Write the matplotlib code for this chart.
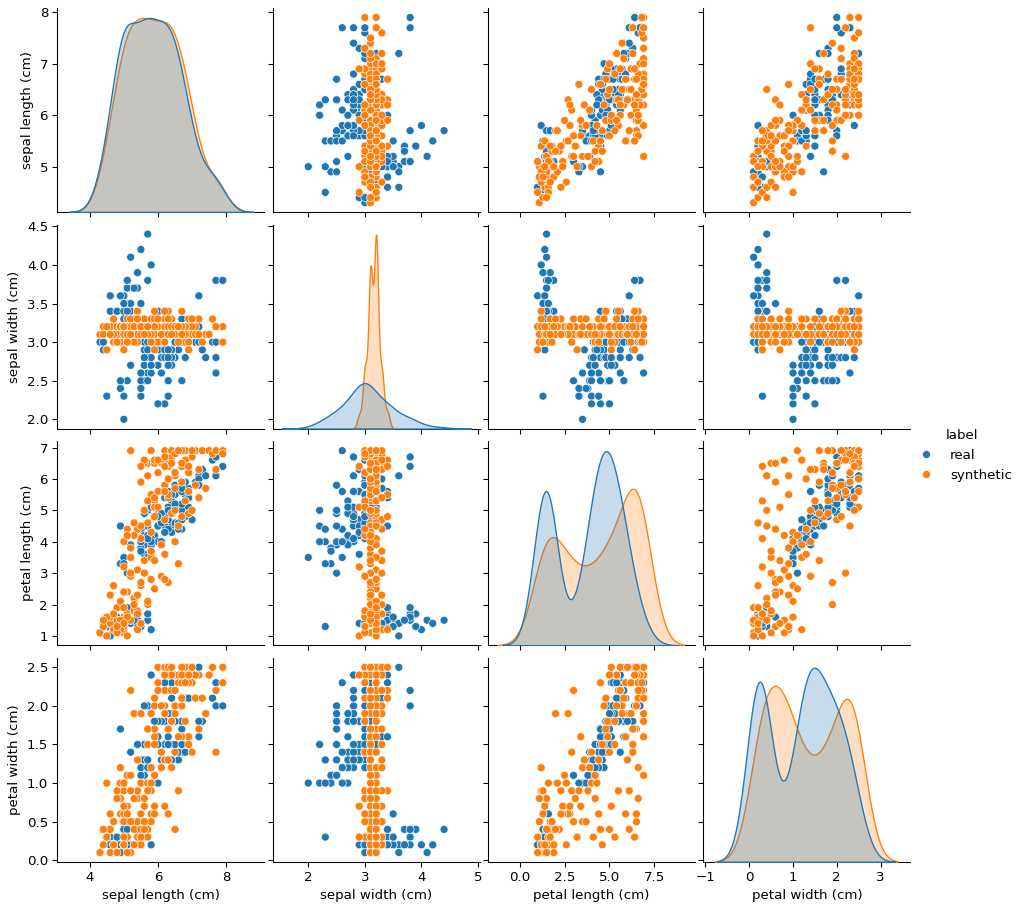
import matplotlib
matplotlib.use("Agg")
import matplotlib.pyplot as plt
import pandas as pd
import seaborn as sns

# ---- real iris measurements -------------------------------------------------
real_sepal_length = [
    5.1, 4.9, 4.7, 4.6, 5.0, 5.4, 4.6, 5.0, 4.4, 4.9,
    5.4, 4.8, 4.8, 4.3, 5.8, 5.7, 5.4, 5.1, 5.7, 5.1,
    5.4, 5.1, 4.6, 5.1, 4.8, 5.0, 5.0, 5.2, 5.2, 4.7,
    4.8, 5.4, 5.2, 5.5, 4.9, 5.0, 5.5, 4.9, 4.4, 5.1,
    5.0, 4.5, 4.4, 5.0, 5.1, 4.8, 5.1, 4.6, 5.3, 5.0,
    7.0, 6.4, 6.9, 5.5, 6.5, 5.7, 6.3, 4.9, 6.6, 5.2,
    5.0, 5.9, 6.0, 6.1, 5.6, 6.7, 5.6, 5.8, 6.2, 5.6,
    5.9, 6.1, 6.3, 6.1, 6.4, 6.6, 6.8, 6.7, 6.0, 5.7,
    5.5, 5.5, 5.8, 6.0, 5.4, 6.0, 6.7, 6.3, 5.6, 5.5,
    5.5, 6.1, 5.8, 5.0, 5.6, 5.7, 5.7, 6.2, 5.1, 5.7,
    6.3, 5.8, 7.1, 6.3, 6.5, 7.6, 4.9, 7.3, 6.7, 7.2,
    6.5, 6.4, 6.8, 5.7, 5.8, 6.4, 6.5, 7.7, 7.7, 6.0,
    6.9, 5.6, 7.7, 6.3, 6.7, 7.2, 6.2, 6.1, 6.4, 7.2,
    7.4, 7.9, 6.4, 6.3, 6.1, 7.7, 6.3, 6.4, 6.0, 6.9,
    6.7, 6.9, 5.8, 6.8, 6.7, 6.7, 6.3, 6.5, 6.2, 5.9,
]
real_sepal_width = [
    3.5, 3.0, 3.2, 3.1, 3.6, 3.9, 3.4, 3.4, 2.9, 3.1,
    3.7, 3.4, 3.0, 3.0, 4.0, 4.4, 3.9, 3.5, 3.8, 3.8,
    3.4, 3.7, 3.6, 3.3, 3.4, 3.0, 3.4, 3.5, 3.4, 3.2,
    3.1, 3.4, 4.1, 4.2, 3.1, 3.2, 3.5, 3.6, 3.0, 3.4,
    3.5, 2.3, 3.2, 3.5, 3.8, 3.0, 3.8, 3.2, 3.7, 3.3,
    3.2, 3.2, 3.1, 2.3, 2.8, 2.8, 3.3, 2.4, 2.9, 2.7,
    2.0, 3.0, 2.2, 2.9, 2.9, 3.1, 3.0, 2.7, 2.2, 2.5,
    3.2, 2.8, 2.5, 2.8, 2.9, 3.0, 2.8, 3.0, 2.9, 2.6,
    2.4, 2.4, 2.7, 2.7, 3.0, 3.4, 3.1, 2.3, 3.0, 2.5,
    2.6, 3.0, 2.6, 2.3, 2.7, 3.0, 2.9, 2.9, 2.5, 2.8,
    3.3, 2.7, 3.0, 2.9, 3.0, 3.0, 2.5, 2.9, 2.5, 3.6,
    3.2, 2.7, 3.0, 2.5, 2.8, 3.2, 3.0, 3.8, 2.6, 2.2,
    3.2, 2.8, 2.8, 2.7, 3.3, 3.2, 2.8, 3.0, 2.8, 3.0,
    2.8, 3.8, 2.8, 2.8, 2.6, 3.0, 3.4, 3.1, 3.0, 3.1,
    3.1, 3.1, 2.7, 3.2, 3.3, 3.0, 2.5, 3.0, 3.4, 3.0,
]
real_petal_length = [
    1.4, 1.4, 1.3, 1.5, 1.4, 1.7, 1.4, 1.5, 1.4, 1.5,
    1.5, 1.6, 1.4, 1.1, 1.2, 1.5, 1.3, 1.4, 1.7, 1.5,
    1.7, 1.5, 1.0, 1.7, 1.9, 1.6, 1.6, 1.5, 1.4, 1.6,
    1.6, 1.5, 1.5, 1.4, 1.5, 1.2, 1.3, 1.4, 1.3, 1.5,
    1.3, 1.3, 1.3, 1.6, 1.9, 1.4, 1.6, 1.4, 1.5, 1.4,
    4.7, 4.5, 4.9, 4.0, 4.6, 4.5, 4.7, 3.3, 4.6, 3.9,
    3.5, 4.2, 4.0, 4.7, 3.6, 4.4, 4.5, 4.1, 4.5, 3.9,
    4.8, 4.0, 4.9, 4.7, 4.3, 4.4, 4.8, 5.0, 4.5, 3.5,
    3.8, 3.7, 3.9, 5.1, 4.5, 4.5, 4.7, 4.4, 4.1, 4.0,
    4.4, 4.6, 4.0, 3.3, 4.2, 4.2, 4.2, 4.3, 3.0, 4.1,
    6.0, 5.1, 5.9, 5.6, 5.8, 6.6, 4.5, 6.3, 5.8, 6.1,
    5.1, 5.3, 5.5, 5.0, 5.1, 5.3, 5.5, 6.7, 6.9, 5.0,
    5.7, 4.9, 6.7, 4.9, 5.7, 6.0, 4.8, 4.9, 5.6, 5.8,
    6.1, 6.4, 5.6, 5.1, 5.6, 6.1, 5.6, 5.5, 4.8, 5.4,
    5.6, 5.1, 5.1, 5.9, 5.7, 5.2, 5.0, 5.2, 5.4, 5.1,
]
real_petal_width = [
    0.2, 0.2, 0.2, 0.2, 0.2, 0.4, 0.3, 0.2, 0.2, 0.1,
    0.2, 0.2, 0.1, 0.1, 0.2, 0.4, 0.4, 0.3, 0.3, 0.3,
    0.2, 0.4, 0.2, 0.5, 0.2, 0.2, 0.4, 0.2, 0.2, 0.2,
    0.2, 0.4, 0.1, 0.2, 0.2, 0.2, 0.2, 0.1, 0.2, 0.2,
    0.3, 0.3, 0.2, 0.6, 0.4, 0.3, 0.2, 0.2, 0.2, 0.2,
    1.4, 1.5, 1.5, 1.3, 1.5, 1.3, 1.6, 1.0, 1.3, 1.4,
    1.0, 1.5, 1.0, 1.4, 1.3, 1.4, 1.5, 1.0, 1.5, 1.1,
    1.8, 1.3, 1.5, 1.2, 1.3, 1.4, 1.4, 1.7, 1.5, 1.0,
    1.1, 1.0, 1.2, 1.6, 1.5, 1.6, 1.5, 1.3, 1.3, 1.3,
    1.2, 1.4, 1.2, 1.0, 1.3, 1.2, 1.3, 1.3, 1.1, 1.3,
    2.5, 1.9, 2.1, 1.8, 2.2, 2.1, 1.7, 1.8, 1.8, 2.5,
    2.0, 1.9, 2.1, 2.0, 2.4, 2.3, 1.8, 2.2, 2.3, 1.5,
    2.3, 2.0, 2.0, 1.8, 2.1, 1.8, 1.8, 1.8, 2.1, 1.6,
    1.9, 2.0, 2.2, 1.5, 1.4, 2.3, 2.4, 1.8, 1.8, 2.1,
    2.4, 2.3, 1.9, 2.3, 2.5, 2.3, 1.9, 2.0, 2.3, 1.8,
]

# ---- synthetic rows ---------------------------------------------------------
syn_sepal_length = [
    4.3, 4.4, 4.5, 4.6, 4.6, 4.7, 4.8, 4.8, 4.9, 4.9,
    5.0, 5.0, 5.1, 5.1, 5.2, 5.2, 5.3, 5.3, 5.4, 5.4,
    5.5, 5.5, 4.7, 5.6, 5.7, 5.0, 5.8, 5.8, 5.1, 5.9,
    5.6, 4.9, 5.4, 6.2, 6.3, 5.4, 6.6, 4.5, 4.7, 5.0,
    5.1, 5.3, 5.5, 4.9, 5.0, 5.0, 6.1, 4.4, 5.2, 5.2,
    4.8, 5.4, 5.7, 4.6, 5.9, 5.0, 4.8, 6.2, 5.0, 5.2,
    5.4, 5.5, 5.7, 5.3, 5.9, 5.5, 6.1, 6.2, 5.8, 6.4,
    5.1, 6.5, 5.3, 6.7, 5.1, 6.6, 5.8, 6.9, 5.6, 5.9,
    6.0, 5.9, 6.2, 6.3, 6.4, 6.5, 5.8, 6.7, 6.8, 6.9,
    7.0, 7.1, 7.2, 5.7, 5.5, 6.3, 7.4, 6.0, 5.7, 6.7,
    6.2, 5.9, 6.5, 5.2, 5.6, 5.8, 6.0, 5.6, 6.2, 6.3,
    6.4, 6.5, 6.6, 6.7, 6.8, 6.9, 7.0, 7.1, 6.3, 7.3,
    6.7, 7.5, 7.6, 7.7, 6.4, 7.9, 6.3, 5.9, 5.9, 6.4,
    6.1, 6.9, 5.5, 7.0, 7.2, 6.8, 6.2, 6.5, 6.5, 5.7,
    6.2, 6.7, 6.7, 6.0, 6.3, 7.7, 7.9, 6.4, 6.6, 6.9,
]
syn_sepal_width = [
    3.1, 3.2, 2.9, 3.2, 3.1, 3.3, 3.2, 3.1, 3.0, 3.2,
    3.1, 3.2, 3.3, 3.1, 3.2, 3.0, 3.2, 3.1, 3.4, 3.2,
    3.1, 3.2, 3.0, 3.3, 3.1, 3.2, 3.2, 3.1, 3.0, 3.2,
    3.1, 3.2, 3.3, 3.1, 3.2, 3.0, 3.1, 3.2, 3.1, 2.9,
    3.2, 3.3, 3.1, 3.2, 3.1, 3.2, 3.0, 3.1, 3.3, 3.2,
    3.0, 3.1, 3.2, 3.1, 3.1, 3.2, 3.0, 3.2, 3.2, 3.1,
    3.3, 3.2, 3.1, 3.0, 3.2, 3.1, 3.2, 3.3, 3.1, 3.2,
    3.0, 3.1, 3.2, 3.4, 3.1, 3.2, 3.3, 3.1, 3.2, 3.1,
    3.2, 2.9, 3.2, 3.1, 3.3, 3.2, 3.1, 3.2, 3.0, 3.2,
    3.1, 3.2, 3.3, 3.1, 3.2, 3.4, 3.1, 3.0, 3.2, 3.1,
    3.2, 3.3, 3.1, 3.1, 3.2, 3.0, 3.2, 3.1, 3.2, 3.3,
    3.1, 3.2, 3.0, 3.2, 3.1, 3.3, 3.2, 3.1, 3.2, 3.0,
    3.2, 3.1, 3.3, 3.2, 3.1, 3.2, 3.1, 3.2, 3.4, 3.2,
    3.1, 3.0, 3.2, 3.3, 3.1, 3.2, 3.0, 3.2, 3.1, 3.2,
    3.4, 3.1, 3.2, 3.3, 3.1, 3.2, 3.0, 3.1, 3.2, 2.9,
]
syn_petal_length = [
    1.1, 1.3, 1.0, 1.4, 1.6, 1.2, 1.5, 1.9, 1.3, 2.1,
    1.6, 1.1, 1.7, 2.4, 1.5, 2.9, 1.8, 2.2, 1.2, 3.1,
    1.4, 2.6, 1.7, 3.4, 2.0, 1.3, 2.8, 3.5, 1.6, 2.5,
    3.0, 1.5, 2.3, 3.6, 2.7, 1.8, 3.3, 1.6, 2.6, 3.2,
    1.0, 2.0, 2.7, 1.2, 2.4, 1.4, 2.9, 1.5, 3.0, 3.5,
    1.1, 1.7, 2.1, 2.3, 3.4, 1.9, 1.3, 2.8, 4.0, 3.8,
    4.4, 4.1, 4.6, 4.2, 4.8, 4.5, 3.9, 4.7, 4.3, 4.9,
    4.4, 4.0, 4.6, 4.8, 4.2, 4.5, 3.7, 4.9, 5.0, 5.3,
    5.6, 5.1, 5.8, 5.4, 6.6, 5.7, 5.5, 5.9, 5.3, 5.6,
    5.0, 5.8, 5.4, 6.5, 5.9, 5.5, 5.7, 5.1, 5.3, 5.9,
    5.6, 5.4, 5.0, 6.9, 6.5, 6.9, 6.2, 6.6, 6.9, 6.4,
    6.8, 6.1, 6.9, 6.5, 6.9, 6.3, 6.7, 6.9, 6.6, 6.9,
    6.4, 6.9, 6.8, 6.9, 6.7, 6.9, 6.0, 6.5, 6.6, 6.9,
    6.5, 6.2, 6.4, 6.9, 6.3, 6.6, 6.7, 6.2, 6.8, 6.1,
    6.4, 6.9, 6.5, 6.6, 6.0, 6.3, 6.8, 6.5, 6.9, 6.4,
]
syn_petal_width = [
    0.1, 0.2, 0.3, 0.1, 0.4, 0.2, 0.8, 0.1, 0.6, 1.0,
    0.2, 0.5, 0.3, 0.7, 0.1, 0.9, 0.5, 0.4, 0.9, 0.8,
    0.2, 1.0, 0.5, 0.7, 0.4, 0.9, 0.6, 1.2, 0.3, 1.1,
    0.5, 0.8, 0.9, 1.3, 0.6, 0.5, 0.9, 1.0, 0.2, 0.3,
    0.1, 1.9, 1.9, 1.2, 0.6, 0.7, 1.4, 0.4, 2.2, 0.5,
    0.8, 0.3, 1.0, 0.6, 1.6, 0.2, 0.9, 0.7, 1.0, 0.9,
    1.3, 0.3, 1.5, 0.8, 1.7, 0.4, 1.2, 2.0, 1.0, 1.8,
    0.6, 1.4, 0.2, 2.1, 1.1, 2.3, 0.5, 1.6, 0.4, 1.5,
    2.2, 0.7, 1.9, 2.4, 1.2, 2.0, 0.9, 2.3, 1.8, 2.5,
    1.4, 2.1, 2.4, 1.7, 0.6, 2.2, 1.9, 2.5, 0.3, 1.6,
    2.2, 2.0, 2.4, 1.1, 0.5, 1.9, 2.3, 0.8, 2.5, 1.7,
    2.2, 0.4, 2.4, 2.0, 2.5, 1.5, 2.3, 2.4, 2.5, 2.1,
    2.5, 2.4, 2.5, 2.2, 2.4, 2.5, 1.3, 0.6, 2.1, 1.8,
    2.0, 2.3, 0.3, 2.5, 1.7, 2.3, 2.4, 1.9, 2.2, 0.9,
    2.5, 2.1, 2.4, 2.2, 2.5, 1.4, 2.3, 2.5, 1.6, 2.4,
]

columns = ["sepal length (cm)", "sepal width (cm)",
           "petal length (cm)", "petal width (cm)"]
# x ranges of each column as seen in the picture
col_limits = [(3.05, 9.12), (1.37, 5.03), (-1.76, 9.76), (-1.05, 3.68)]

real = pd.DataFrame(dict(zip(columns, [real_sepal_length, real_sepal_width,
                                       real_petal_length, real_petal_width])))
real["label"] = "real"
synth = pd.DataFrame(dict(zip(columns, [syn_sepal_length, syn_sepal_width,
                                        syn_petal_length, syn_petal_width])))
synth["label"] = "synthetic"
df = pd.concat([real, synth], ignore_index=True)

DPI = 96
g = sns.pairplot(df, hue="label", vars=columns)

fig = g.figure
fig.set_size_inches(1024 / DPI, 911 / DPI)
fig.subplots_adjust(left=0.056, right=0.889, top=0.991, bottom=0.054,
                    wspace=0.04, hspace=0.063)

for j, lim in enumerate(col_limits):
    g.axes[-1, j].set_xlim(lim)

g._legend.set_bbox_to_anchor((1.0, 0.5))

fig.savefig("out.png", dpi=DPI)
